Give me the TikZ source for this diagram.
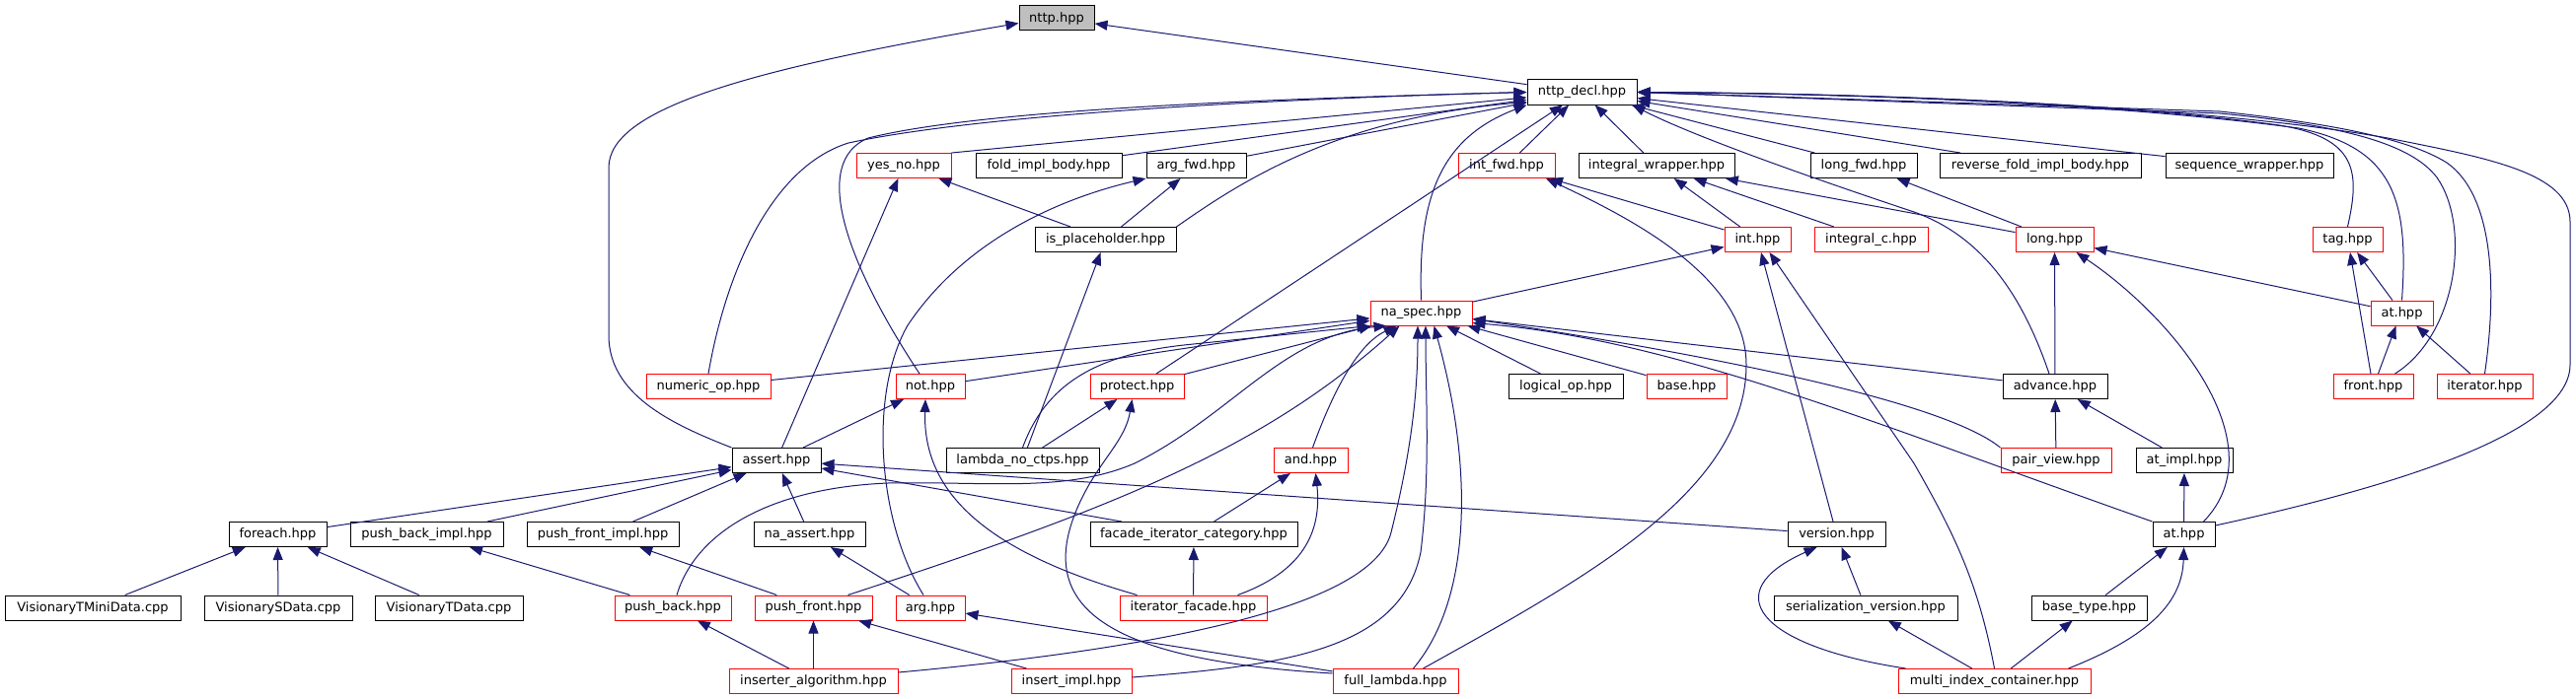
\documentclass[tikz,border=0pt]{standalone}
\usepackage{fontspec}
\setmainfont{DejaVu Sans}
\usetikzlibrary{arrows.meta}
\definecolor{edgec}{HTML}{191970}
\definecolor{redb}{HTML}{FF0000}
\definecolor{grayf}{HTML}{BFBFBF}
\tikzset{
  nd/.style={draw=black, line width=1pt, minimum height=25pt, inner sep=0pt, font=\fontsize{13}{15}\selectfont, text=black},
  rd/.style={nd, draw=redb},
  edg/.style={draw=edgec, line width=1pt, -{Triangle[length=13pt,width=10pt]}},
}
\begin{document}
\begin{tikzpicture}[x=1pt,y=-1pt]
\fill[white] (0,0) rectangle (2611,709);
\useasboundingbox (0,0) rectangle (2611,709);
% row 0,1
\node[nd,fill=grayf,minimum width=76pt] (nttp) at (1071,18.5) {nttp.hpp};
\node[nd,minimum width=111pt] (decl) at (1603.5,93.5) {nttp\_decl.hpp};
% row 2
\node[rd,minimum width=96pt] (yesno) at (916,168) {yes\_no.hpp};
\node[nd,minimum width=148pt] (fold) at (1063,168) {fold\_impl\_body.hpp};
\node[nd,minimum width=101pt] (argfwd) at (1212.5,168) {arg\_fwd.hpp};
\node[rd,minimum width=98pt] (intfwd) at (1527,168) {int\_fwd.hpp};
\node[nd,minimum width=158pt] (iwrap) at (1679,168) {integral\_wrapper.hpp};
\node[nd,minimum width=108pt] (longfwd) at (1889,168) {long\_fwd.hpp};
\node[nd,minimum width=204pt] (rfold) at (2068,168) {reverse\_fold\_impl\_body.hpp};
\node[nd,minimum width=170pt] (seqw) at (2280,168) {sequence\_wrapper.hpp};
% row 3
\node[nd,minimum width=143pt] (isph) at (1120.5,243) {is\_placeholder.hpp};
\node[rd,minimum width=67pt] (int) at (1781.5,243) {int.hpp};
\node[rd,minimum width=115pt] (intc) at (1896.5,243) {integral\_c.hpp};
\node[rd,minimum width=79pt] (long) at (2082.5,243) {long.hpp};
\node[rd,minimum width=71pt] (tag) at (2379.5,243) {tag.hpp};
% row 4
\node[rd,minimum width=103pt] (naspec) at (1440.5,317.5) {na\_spec.hpp};
\node[rd,minimum width=63pt] (atr) at (2434.5,317.5) {at.hpp};
% row 5
\node[rd,minimum width=126pt] (numop) at (718,392) {numeric\_op.hpp};
\node[rd,minimum width=70pt] (not) at (943,392) {not.hpp};
\node[rd,minimum width=95pt] (protect) at (1152.5,392) {protect.hpp};
\node[nd,minimum width=116pt] (logop) at (1587,392) {logical\_op.hpp};
\node[rd,minimum width=81pt] (base) at (1709.5,392) {base.hpp};
\node[nd,minimum width=106pt] (advance) at (2083,392) {advance.hpp};
\node[rd,minimum width=81pt] (front) at (2405.5,392) {front.hpp};
\node[rd,minimum width=97pt] (iter) at (2518.5,392) {iterator.hpp};
% row 6
\node[nd,minimum width=90pt] (assert) at (787,467) {assert.hpp};
\node[nd,minimum width=155pt] (lnc) at (1036.5,467) {lambda\_no\_ctps.hpp};
\node[rd,minimum width=75pt] (and) at (1328.5,467) {and.hpp};
\node[rd,minimum width=112pt] (pair) at (2084,467) {pair\_view.hpp};
\node[nd,minimum width=98pt] (atimpl) at (2214,467) {at\_impl.hpp};
% row 7
\node[nd,minimum width=99pt] (foreach) at (281.5,542) {foreach.hpp};
\node[nd,minimum width=155pt] (pbi) at (432.5,542) {push\_back\_impl.hpp};
\node[nd,minimum width=154pt] (pfi) at (611,542) {push\_front\_impl.hpp};
\node[nd,minimum width=113pt] (naassert) at (820.5,542) {na\_assert.hpp};
\node[nd,minimum width=210pt] (fic) at (1210,542) {facade\_iterator\_category.hpp};
\node[nd,minimum width=99pt] (version) at (1861.5,542) {version.hpp};
\node[nd,minimum width=63pt] (atb) at (2213.5,542) {at.hpp};
% row 8
\node[nd,minimum width=178pt] (vtmini) at (94,616.5) {VisionaryTMiniData.cpp};
\node[nd,minimum width=150pt] (vs) at (282,616.5) {VisionarySData.cpp};
\node[nd,minimum width=150pt] (vt) at (455,616.5) {VisionaryTData.cpp};
\node[rd,minimum width=118pt] (pb) at (682,616.5) {push\_back.hpp};
\node[rd,minimum width=119pt] (pf) at (824.5,616.5) {push\_front.hpp};
\node[rd,minimum width=70pt] (arg) at (943,616.5) {arg.hpp};
\node[rd,minimum width=149pt] (itf) at (1209.5,616.5) {iterator\_facade.hpp};
\node[nd,minimum width=186pt] (serv) at (1891,616.5) {serialization\_version.hpp};
\node[nd,minimum width=117pt] (btype) at (2117.5,616.5) {base\_type.hpp};
% row 9
\node[rd,minimum width=171pt] (insalg) at (824.5,691) {inserter\_algorithm.hpp};
\node[rd,minimum width=122pt] (insimpl) at (1086,691) {insert\_impl.hpp};
\node[rd,minimum width=127pt] (fl) at (1414.5,691) {full\_lambda.hpp};
\node[rd,minimum width=195pt] (mic) at (2021.5,691) {multi\_index\_container.hpp};

% ---- edges to nttp
\draw[edg] (decl) -- (nttp);
\draw[edg] (assert.north west) .. controls (680,430) and (617,400) .. (617,340) -- (617,170) .. controls (617,110) and (760,70) .. ([yshift=-5pt]nttp.west);
% ---- edges to nttp_decl
\draw[edg] (yesno.north east) -- (decl);
\draw[edg] (fold) -- (decl);
\draw[edg] (argfwd) -- (decl);
\draw[edg] (isph.north east) .. controls (1250,190) and (1350,120) .. ([yshift=-10pt]decl.west);
\draw[edg] (intfwd) -- (decl);
\draw[edg] (iwrap) -- (decl);
\draw[edg] (longfwd) -- (decl);
\draw[edg] (rfold) -- (decl);
\draw[edg] (seqw) -- (decl);
\draw[edg] (tag.north) .. controls (2392,175) and (2390,140) .. (2310,127) .. controls (2150,105) and (1900,95) .. (decl.east);
\draw[edg] (atr.north) .. controls (2442,200) and (2425,150) .. (2330,130) .. controls (2150,106) and (1900,95) .. (decl.east);
\draw[edg] ([xshift=22pt]front.north) .. controls (2490,340) and (2505,230) .. (2470,180) .. controls (2440,140) and (2350,125) .. (2250,115) -- (decl.east);
\draw[edg] (iter.north) .. controls (2530,300) and (2530,200) .. (2480,165) .. controls (2440,140) and (2360,125) .. (2250,113) -- (decl.east);
\draw[edg] ([yshift=9pt]atb.east) .. controls (2420,495) and (2605,440) .. (2605,370) -- (2605,225) .. controls (2605,175) and (2520,160) .. (2420,140) .. controls (2250,110) and (1950,95) .. (decl.east);
\draw[edg] ([xshift=-6pt]advance.north) .. controls (2050,300) and (2010,240) .. (1940,215) .. controls (1850,185) and (1720,140) .. ([xshift=-5pt]decl.south east);
\draw[edg] (naspec.north) .. controls (1437,200) and (1460,140) .. (decl.south west);
\draw[edg] (protect) -- (decl);
\draw[edg] ([xshift=-11pt]not.north) .. controls (860,270) and (820,165) .. (880,140) .. controls (1000,110) and (1300,100) .. (decl.west);
\draw[edg] (numop.north) .. controls (735,280) and (780,170) .. (860,145) .. controls (1000,115) and (1300,100) .. (decl.west);
% ---- row 2 targets
\draw[edg] (isph) -- (argfwd);
\draw[edg] (isph) -- (yesno);
\draw[edg] (assert) -- (yesno);
\draw[edg] ([xshift=-7pt]arg.north) .. controls (890,530) and (880,400) .. (920,330) .. controls (980,240) and (1080,200) .. (argfwd.south west);
\draw[edg] (int) -- (intfwd);
\draw[edg] (int) -- (iwrap);
\draw[edg] (intc) -- (iwrap);
\draw[edg] (long) -- (iwrap);
\draw[edg] (long) -- (longfwd);
\draw[edg] ([xshift=28pt]fl.north) .. controls (1600,590) and (1770,500) .. (1770,370) .. controls (1770,280) and (1650,220) .. ([xshift=40pt]intfwd.south);
% ---- row 3 targets
\draw[edg] (lnc) -- (isph);
\draw[edg] (naspec) -- (int);
\draw[edg] (version) -- (int);
\draw[edg] (mic.north) .. controls (2005,590) and (1980,540) .. (1940,470) -- ([xshift=12pt]int.south);
\draw[edg] (advance) -- (long);
\draw[edg] (atr) -- (long);
\draw[edg] ([xshift=20pt]atb.north) .. controls (2310,450) and (2200,320) .. ([xshift=22pt]long.south);
\draw[edg] (atr) -- (tag);
\draw[edg] ([xshift=-2.5pt]front.north) -- ([xshift=2.5pt]tag.south);
% ---- row 4 targets
\draw[edg] ([xshift=5pt]front.north) -- ([xshift=-6pt]atr.south);
\draw[edg] (iter) -- (atr);
\draw[edg] (numop) -- (naspec);
\draw[edg] (not) -- (naspec);
\draw[edg] (protect) -- (naspec);
\draw[edg] (lnc.north) .. controls (1060,390) and (1110,360) .. (1200,350) -- (naspec.south west);
\draw[edg] (logop) -- (naspec);
\draw[edg] (base) -- (naspec);
\draw[edg] (advance) -- (naspec);
\draw[edg] (pair.north west) .. controls (1980,415) and (1800,370) .. ([yshift=-6pt]naspec.east);
\draw[edg] (atb.north west) .. controls (1900,430) and (1700,345) .. ([yshift=-10pt]naspec.east);
\draw[edg] ([xshift=2pt]and.north) .. controls (1350,400) and (1375,350) .. ([xshift=-25pt]naspec.south);
\draw[edg] ([xshift=4pt]pb.north) .. controls (705,540) and (780,495) .. (900,490) .. controls (1000,488) and (1080,500) .. (1150,470) .. controls (1250,420) and (1300,340) .. ([xshift=-35pt]naspec.south);
\draw[edg] ([xshift=35pt]pf.north) .. controls (1130,515) and (1280,455) .. ([xshift=-22pt]naspec.south);
\draw[edg] ([yshift=9pt]insalg.east) .. controls (1150,660) and (1390,620) .. (1410,540) .. controls (1430,460) and (1437,400) .. ([xshift=-3.5pt]naspec.south);
\draw[edg] ([yshift=4pt]insimpl.east) .. controls (1300,675) and (1420,660) .. (1440,560) .. controls (1450,480) and (1445,400) .. ([xshift=4.5pt]naspec.south);
\draw[edg] ([xshift=18pt]fl.north) .. controls (1490,610) and (1495,480) .. ([xshift=13pt]naspec.south);
% ---- row 5 targets
\draw[edg] (pair) -- (advance);
\draw[edg] (atimpl) -- (advance);
\draw[edg] (assert) -- (not);
\draw[edg] ([xshift=-57pt]itf.north) .. controls (1000,560) and (935,500) .. ([xshift=-5pt]not.south);
\draw[edg] (lnc) -- (protect);
\draw[edg] ([yshift=8pt]fl.west) .. controls (1130,670) and (1050,620) .. (1090,520) .. controls (1110,470) and (1140,450) .. ([xshift=-5pt]protect.south);
% ---- row 6 targets
\draw[edg] (atb) -- (atimpl);
\draw[edg] (foreach) -- (assert);
\draw[edg] (pbi) -- (assert);
\draw[edg] (pfi) -- (assert);
\draw[edg] (naassert) -- (assert);
\draw[edg] (fic) -- (assert);
\draw[edg] (version) -- (assert);
\draw[edg] (fic) -- (and);
\draw[edg] ([xshift=45pt]itf.north) .. controls (1320,580) and (1340,540) .. ([xshift=5pt]and.south);
% ---- row 7 targets
\draw[edg] (itf) -- (fic);
\draw[edg] (vtmini) -- (foreach);
\draw[edg] (vs) -- (foreach);
\draw[edg] (vt) -- (foreach);
\draw[edg] (pb) -- (pbi);
\draw[edg] (pf) -- (pfi);
\draw[edg] (arg) -- (naassert);
\draw[edg] (serv) -- (version);
\draw[edg] ([xshift=-90pt]mic.north) .. controls (1780,655) and (1740,600) .. ([xshift=-20pt]version.south);
\draw[edg] (btype) -- (atb);
\draw[edg] ([xshift=75pt]mic.north) .. controls (2180,645) and (2212,610) .. (atb.south);
% ---- row 8 targets
\draw[edg] (insalg) -- (pb);
\draw[edg] (insalg) -- (pf);
\draw[edg] (insimpl) -- (pf);
\draw[edg] (fl) -- (arg);
\draw[edg] (mic) -- (serv);
\draw[edg] (mic) -- (btype);
\end{tikzpicture}
\end{document}
